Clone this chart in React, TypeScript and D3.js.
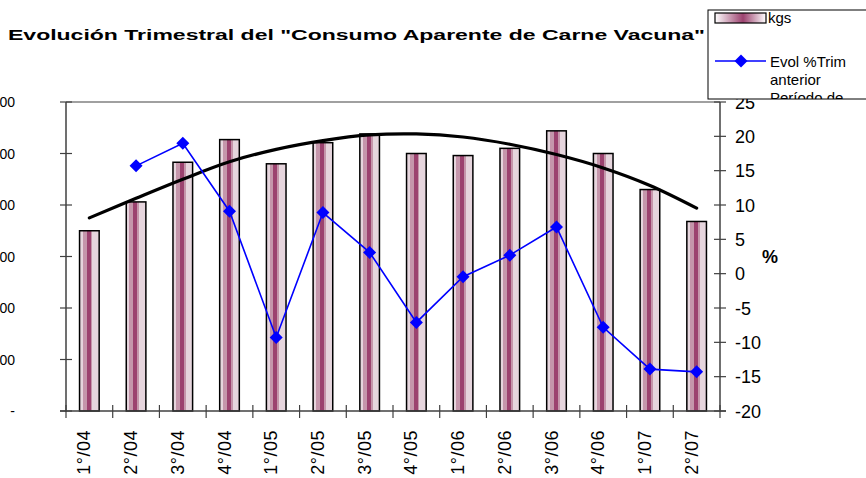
import React from 'react';
import * as d3 from 'd3';

const categories = ["1°/04", "2°/04", "3°/04", "4°/04", "1°/05", "2°/05", "3°/05", "4°/05", "1°/06", "2°/06", "3°/06", "4°/06", "1°/07", "2°/07"];
const kgs = [350, 406, 483, 527, 480, 521, 538, 500, 496, 510, 544, 500, 430, 368];
const evolPct: (number | null)[] = [null, 15.7, 19.0, 9.1, -9.3, 8.9, 3.1, -7.1, -0.45, 2.7, 6.8, -7.8, -13.9, -14.3];
const trend = [375, 413, 450, 484, 508, 525, 536, 538, 532, 518, 498, 472, 438, 394];
const leftTicks = [0, 100, 200, 300, 400, 500, 600];
const rightTicks = [-20, -15, -10, -5, 0, 5, 10, 15, 20, 25];

const W = 866, H = 478;
const X0 = 66, X1 = 720, Y0 = 411, Y1 = 102;
const FONT = "'Liberation Sans', Arial, sans-serif";

export default function App() {
  const x = d3.scaleBand<string>().domain(categories).range([X0, X1]).paddingInner(0.58).paddingOuter(0.29);
  const yL = d3.scaleLinear().domain([0, 600]).range([Y0, Y1]);
  const yR = d3.scaleLinear().domain([-20, 25]).range([Y0, Y1]);
  const step = x.step();
  const cx = (c: string) => (x(c) as number) + x.bandwidth() / 2;

  const trendLine = d3.line<number>()
    .x((_, i) => cx(categories[i]))
    .y((d) => yL(d))
    .curve(d3.curveCatmullRom);

  const pctPts = evolPct
    .map((v, i) => (v == null ? null : { x: cx(categories[i]), y: yR(v) }))
    .filter((p): p is { x: number; y: number } => p != null);
  const pctLine = d3.line<{ x: number; y: number }>().x((d) => d.x).y((d) => d.y);

  const diamond = (px: number, py: number, r: number) =>
    `M${px},${py - r}L${px + r},${py}L${px},${py + r}L${px - r},${py}Z`;

  const boundaries = d3.range(categories.length + 1).map((i) => X0 + i * step);

  return (
    <svg width={W} height={H} style={{ position: 'absolute', left: 0, top: 0, background: '#fff' }} fontFamily={FONT}>
      <defs>
        <linearGradient id="barGrad" x1="0" x2="1" y1="0" y2="0">
          <stop offset="0" stopColor="#e6d5dd" />
          <stop offset="0.16" stopColor="#e6d5dd" />
          <stop offset="0.16" stopColor="#c596ab" />
          <stop offset="0.36" stopColor="#c596ab" />
          <stop offset="0.36" stopColor="#9c426f" />
          <stop offset="0.56" stopColor="#9c426f" />
          <stop offset="0.56" stopColor="#c596ab" />
          <stop offset="0.66" stopColor="#c596ab" />
          <stop offset="0.66" stopColor="#e6d5dd" />
          <stop offset="1" stopColor="#e6d5dd" />
        </linearGradient>
        <linearGradient id="legGrad" x1="0" x2="1" y1="0" y2="0">
          <stop offset="0" stopColor="#ffffff" />
          <stop offset="0.55" stopColor="#9c426f" />
          <stop offset="1" stopColor="#ffffff" />
        </linearGradient>
        <clipPath id="legClip">
          <rect x={708} y={10} width={160} height={89} />
        </clipPath>
      </defs>

      {/* Title */}
      <text x={8} y={40} fontSize={15} fontWeight="bold" textLength={697} lengthAdjust="spacingAndGlyphs" fill="#000">
        Evolución Trimestral  del "Consumo Aparente de Carne Vacuna"
      </text>

      {/* plot top border */}
      <line x1={X0} x2={X1} y1={Y1} y2={Y1} stroke="#808080" strokeWidth={1.5} />

      {/* Bars */}
      {categories.map((c, i) => (
        <rect key={c} x={x(c)} y={yL(kgs[i])} width={x.bandwidth()} height={Y0 - yL(kgs[i])}
          fill="url(#barGrad)" stroke="#000" strokeWidth={1.5} />
      ))}

      {/* Trend line */}
      <path d={trendLine(trend) || ''} fill="none" stroke="#000" strokeWidth={3.2} strokeLinecap="round" />

      {/* Percent line */}
      <path d={pctLine(pctPts) || ''} fill="none" stroke="#0000ff" strokeWidth={1.6} />
      {pctPts.map((p, i) => (
        <path key={i} d={diamond(p.x, p.y, 6.5)} fill="#0000ff" />
      ))}

      {/* Left axis */}
      <line x1={X0} x2={X0} y1={Y1} y2={Y0 + 1} stroke="#404040" strokeWidth={1.5} />
      {leftTicks.map((t) => (
        <g key={t}>
          <line x1={X0 - 6} x2={X0 + 6} y1={yL(t)} y2={yL(t)} stroke="#404040" strokeWidth={1.2} />
          <text x={15} y={yL(t) + 5} fontSize={14} textAnchor="end" fill="#000">
            {t === 0 ? '-' : `${t}.000`}
          </text>
        </g>
      ))}

      {/* Right axis */}
      <line x1={X1} x2={X1} y1={Y1} y2={Y0 + 1} stroke="#404040" strokeWidth={1.5} />
      {rightTicks.map((t) => (
        <g key={t}>
          <line x1={X1 - 6} x2={X1 + 6} y1={yR(t)} y2={yR(t)} stroke="#404040" strokeWidth={1.2} />
          <text x={735} y={yR(t) + 6.5} fontSize={18} fill="#000">{t}</text>
        </g>
      ))}
      <text x={762} y={263} fontSize={18} fontWeight="bold" fill="#000">%</text>

      {/* X axis */}
      <line x1={X0 - 6} x2={X1 + 6} y1={Y0} y2={Y0} stroke="#404040" strokeWidth={1.5} />
      {boundaries.map((b, i) => (
        <line key={i} x1={b} x2={b} y1={Y0 - 6} y2={Y0 + 7} stroke="#404040" strokeWidth={1.2} />
      ))}
      {categories.map((c) => (
        <text key={c} transform={`translate(${cx(c) + 1},430) rotate(-90)`} fontSize={18} textAnchor="end" fill="#000" letterSpacing={0.5}>
          {c}
        </text>
      ))}

      {/* Legend */}
      <rect x={708} y={10} width={170} height={89} fill="#fff" stroke="#000" strokeWidth={1} />
      <g clipPath="url(#legClip)">
        <rect x={715} y={13} width={51} height={10} fill="url(#legGrad)" stroke="#000" strokeWidth={1.2} />
        <text x={768} y={23} fontSize={15} fill="#000">kgs</text>
        <line x1={715} x2={766} y1={61} y2={61} stroke="#0000ff" strokeWidth={1.6} />
        <path d={diamond(741, 61, 6.5)} fill="#0000ff" />
        <text x={770} y={67} fontSize={15} fill="#000">Evol %Trim</text>
        <text x={770} y={85} fontSize={15} fill="#000">anterior</text>
        <text x={770} y={103} fontSize={15} fill="#000">Período de</text>
      </g>
    </svg>
  );
}
